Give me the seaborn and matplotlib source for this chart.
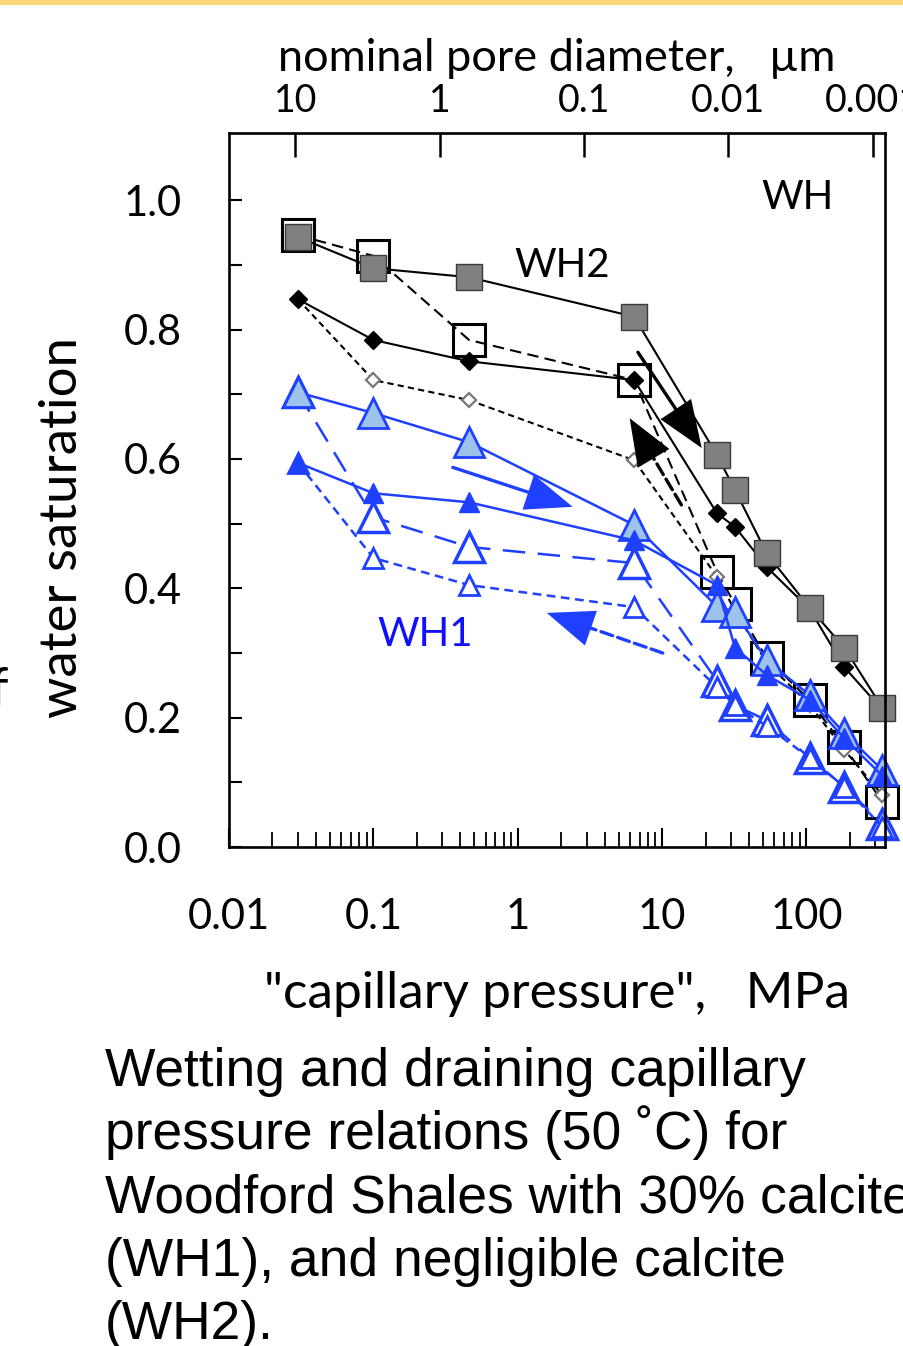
import numpy as np
import pandas as pd
import seaborn as sns
import matplotlib.pyplot as plt
from matplotlib.patches import Rectangle
from matplotlib.ticker import FixedLocator, NullLocator, LogLocator, NullFormatter

# capillary pressure steps (MPa), shared by every curve
pressure = [0.03, 0.1, 0.46, 6.4, 24, 32, 53, 105, 183, 336]

# WH2 (negligible calcite), black
wh2_open_sq = [0.946, 0.914, 0.784, 0.722, 0.425, 0.375, 0.292, 0.227, 0.155, 0.070]
wh2_open_dia = [0.847, 0.722, 0.691, 0.598, 0.418, 0.365, 0.285, 0.220, 0.150, 0.080]
wh2_black_dia = [0.847, 0.784, 0.751, 0.722, 0.516, 0.495, 0.433, 0.368, 0.278, 0.212]
wh2_gray_sq = [0.943, 0.895, 0.881, 0.820, 0.606, 0.552, 0.454, 0.370, 0.308, 0.215]

# WH1 (30% calcite), blue
wh1_open_big = [0.703, 0.510, 0.464, 0.439, 0.257, 0.219, 0.196, 0.138, 0.093, 0.036]
wh1_open_small = [0.594, 0.447, 0.405, 0.371, 0.247, 0.219, 0.187, 0.138, 0.093, 0.031]
wh1_light_tri = [0.703, 0.671, 0.626, 0.498, 0.372, 0.363, 0.289, 0.235, 0.176, 0.119]
wh1_dark_tri = [0.594, 0.547, 0.533, 0.474, 0.405, 0.308, 0.266, 0.228, 0.168, 0.110]

top_ticks = [10, 1, 0.1, 0.01, 0.001]
top_labels = ["10", "1", "0.1", "0.01", "0.001"]

# arrows: (start, tip) in data units
arrow_black_dry = [(6.8, 0.765), (18.8, 0.617)]
arrow_black_wet = [(13.6, 0.529), (5.96, 0.663)]
arrow_blue_dry = [(0.355, 0.587), (2.4, 0.526)]
arrow_blue_wet = [(10.1, 0.300), (1.59, 0.362)]

caption = ["Wetting and draining capillary",
           "pressure relations (50 \u02daC) for",
           "Woodford Shales with 30% calcite",
           "(WH1), and negligible calcite",
           "(WH2)."]

BLUE = "#2040ff"
LIGHT = "#9dc3ea"

sns.set_style("ticks")
plt.rcParams["font.family"] = ["Lato", "DejaVu Sans"]
plt.rcParams.update({"text.color": "k", "axes.labelcolor": "k",
                     "xtick.color": "k", "ytick.color": "k"})

fig = plt.figure(figsize=(9.04, 13.46), dpi=100)
ax = fig.add_axes([0.2533, 0.3707, 0.7257, 0.5305])
ax.set_xscale("log")

series = [
    (wh2_open_sq, dict(color="k", lw=1.5, linestyle=(0, (5.5, 3)), marker="s", markersize=22.5,
                       markerfacecolor="none", markeredgecolor="k", markeredgewidth=2.2)),
    (wh2_open_dia, dict(color="k", lw=1.5, linestyle=(0, (3, 2)), marker="D", markersize=7.5,
                        markerfacecolor="white", markeredgecolor="#777777", markeredgewidth=1.6)),
    (wh2_black_dia, dict(color="k", lw=1.5, linestyle="-", marker="D", markersize=9,
                         markerfacecolor="k", markeredgecolor="k", markeredgewidth=1)),
    (wh2_gray_sq, dict(color="k", lw=1.5, linestyle="-", marker="s", markersize=18.5,
                       markerfacecolor="#808080", markeredgecolor="#3a3a3a", markeredgewidth=1)),
    (wh1_open_big, dict(color=BLUE, lw=1.8, linestyle=(0, (9, 5)), marker="^", markersize=22,
                        markerfacecolor="white", markeredgecolor=BLUE, markeredgewidth=2.5)),
    (wh1_open_small, dict(color=BLUE, lw=1.8, linestyle=(0, (3.5, 2.2)), marker="^", markersize=15,
                          markerfacecolor="white", markeredgecolor=BLUE, markeredgewidth=2)),
    (wh1_light_tri, dict(color=BLUE, lw=1.8, linestyle="-", marker="^", markersize=22,
                         markerfacecolor=LIGHT, markeredgecolor=BLUE, markeredgewidth=2)),
    (wh1_dark_tri, dict(color=BLUE, lw=1.8, linestyle="-", marker="^", markersize=14,
                        markerfacecolor=BLUE, markeredgecolor=BLUE, markeredgewidth=1)),
]

for vals, kw in series:
    df = pd.DataFrame({"pressure": pressure, "sw": vals})
    sns.lineplot(data=df, x="pressure", y="sw", ax=ax, sort=False, clip_on=False, **kw)

# direction arrows: shaft (solid or dashed) + solid head
for (start, tip), col, ls in [(arrow_black_dry, "k", "-"), (arrow_black_wet, "k", "--"),
                              (arrow_blue_dry, BLUE, "-"), (arrow_blue_wet, BLUE, "--")]:
    ax.annotate("", xy=tip, xytext=start,
                arrowprops=dict(arrowstyle="-", color=col, lw=2.4, linestyle=ls,
                                shrinkA=0, shrinkB=6))
    ax.annotate("", xy=tip, xytext=start,
                arrowprops=dict(arrowstyle="-|>,head_length=1.4,head_width=0.55",
                                color=col, lw=0.01, mutation_scale=24,
                                shrinkA=0, shrinkB=0))

ax.set_xlim(0.01, 350)
ax.set_ylim(0, 1.104)

# y ticks
ax.yaxis.set_major_locator(FixedLocator([0, 0.2, 0.4, 0.6, 0.8, 1.0]))
ax.yaxis.set_minor_locator(FixedLocator([0.1, 0.3, 0.5, 0.7, 0.9]))
ax.set_yticklabels(["0.0", "0.2", "0.4", "0.6", "0.8", "1.0"])
ax.tick_params(axis="y", which="both", direction="in", length=9.5, width=1.5,
               labelsize=30, pad=34)

# x ticks
ax.xaxis.set_minor_locator(LogLocator(base=10, subs=np.arange(2, 10), numticks=20))
ax.xaxis.set_minor_formatter(NullFormatter())
ax.set_xticks([0.01, 0.1, 1, 10, 100])
ax.set_xticklabels(["0.01", "0.1", "1", "10", "100"])
ax.tick_params(axis="x", which="major", direction="in", length=14, width=1.5,
               labelsize=30, pad=37)
ax.tick_params(axis="x", which="minor", direction="in", length=11, width=1.3)

for s in ax.spines.values():
    s.set_linewidth(1.9)
    s.set_color("k")
    s.set_visible(True)

ax.set_xlabel('"capillary pressure",   MPa', fontsize=37, labelpad=25)
ax.set_ylabel("water saturation", fontsize=38)
ax.yaxis.set_label_coords(-0.218, 0.448)

# top axis: nominal pore diameter
def p_to_d(p):
    p = np.asarray(p, dtype=float)
    with np.errstate(divide="ignore"):
        return 0.288 / p

sec = ax.secondary_xaxis("top", functions=(p_to_d, p_to_d))
sec.xaxis.set_major_locator(FixedLocator(top_ticks))
sec.xaxis.set_minor_locator(NullLocator())
sec.set_xticklabels(top_labels)
sec.tick_params(axis="x", direction="in", length=17, width=1.8, labelsize=27, pad=10)
sec.set_xlabel("nominal pore diameter,   \u00b5m", fontsize=32.5, labelpad=9)

ax.text(0.866, 0.909, "WH", transform=ax.transAxes, fontsize=29, ha="center", va="center")
ax.text(0.508, 0.815, "WH2", transform=ax.transAxes, fontsize=29, ha="center", va="center")
ax.text(0.299, 0.297, "WH1", transform=ax.transAxes, fontsize=29, ha="center", va="center",
        color="#1010ff")

# clipped letter at the left edge
fig.text(-0.011, 0.487, "f", fontsize=38, ha="left", va="center")

# thin yellow band at top
fig.add_artist(Rectangle((0, 0.9965), 1, 0.0035, transform=fig.transFigure,
                         facecolor="#ffd67a", edgecolor="none"))

for i, line in enumerate(caption):
    fig.text(0.116, 1 - (1086 + 63.3 * i) / 1346, line, fontsize=38.4,
             family=["Liberation Sans", "DejaVu Sans"], ha="left", va="baseline")

fig.savefig("out.png", dpi=100)
